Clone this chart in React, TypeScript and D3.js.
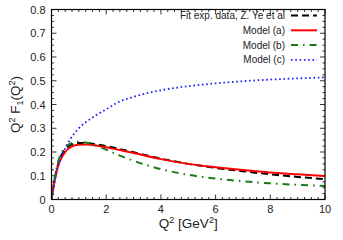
import React from "react";
import * as d3 from "d3";

// Q^2 grid (GeV^2) and the four curves
const q2 = [0, 0.1, 0.2, 0.3, 0.5, 0.75, 1, 1.25, 1.5, 2, 2.5, 3, 4, 5, 6, 7, 8, 9, 10];
const fitYe = [0, 0.075, 0.13, 0.17, 0.21, 0.232, 0.238, 0.238, 0.235, 0.225, 0.212, 0.199, 0.172, 0.15, 0.133, 0.119, 0.106, 0.095, 0.086];
const modelA = [0, 0.07, 0.125, 0.16, 0.2, 0.224, 0.231, 0.232, 0.229, 0.22, 0.208, 0.196, 0.17, 0.15, 0.136, 0.124, 0.114, 0.106, 0.099];
const modelB = [0, 0.08, 0.14, 0.18, 0.218, 0.238, 0.243, 0.24, 0.232, 0.21, 0.185, 0.163, 0.128, 0.104, 0.088, 0.077, 0.068, 0.062, 0.057];
const modelC = [0, 0.065, 0.12, 0.16, 0.215, 0.265, 0.3, 0.325, 0.345, 0.38, 0.413, 0.432, 0.46, 0.477, 0.489, 0.498, 0.505, 0.51, 0.514];

const xTicks = [0, 2, 4, 6, 8, 10];
const yTicks = [0, 0.1, 0.2, 0.3, 0.4, 0.5, 0.6, 0.7, 0.8];

const series = [
  { label: "Fit exp. data, Z. Ye et al", values: fitYe, color: "#000000", dash: "7,4", width: 2 },
  { label: "Model (a)", values: modelA, color: "#ff0000", dash: null, width: 2 },
  { label: "Model (b)", values: modelB, color: "#1a7a1a", dash: "7,5,1.6,5", width: 2 },
  { label: "Model (c)", values: modelC, color: "#2020ff", dash: "1.6,2.7", width: 1.8 },
];

const W = 343;
const H = 240;
const m = { left: 51.5, right: 18, top: 9.5, bottom: 40.5 };
const font = "'Liberation Sans', Arial, Helvetica, sans-serif";

const App = () => {
  const x = d3.scaleLinear().domain([0, 10]).range([m.left, W - m.right]);
  const y = d3.scaleLinear().domain([0, 0.8]).range([H - m.bottom, m.top]);

  const line = (vals: number[]) =>
    d3
      .line<number>()
      .x((_, i) => x(q2[i]))
      .y(d => y(d))
      .curve(d3.curveMonotoneX)(vals) || "";

  const xMinor = d3.range(0, 10.001, 0.25);
  const yMinor = d3.range(0, 0.8001, 0.025);
  const x0 = x(0), x1 = x(10), y0 = y(0), y1 = y(0.8);

  return (
    <svg width={W} height={H} style={{ position: "absolute", left: 0, top: 0 }} fontFamily={font}>
      <rect width={W} height={H} fill="white" />
      <defs>
        <clipPath id="plot">
          <rect x={x0} y={y1} width={x1 - x0} height={y0 - y1} />
        </clipPath>
      </defs>

      {/* ticks, mirrored on all sides */}
      <g stroke="#000" strokeWidth={0.8}>
        {xMinor.map((v, i) => {
          const len = i % 8 === 0 ? 5 : 2.5;
          return (
            <g key={"xm" + i}>
              <line x1={x(v)} x2={x(v)} y1={y0} y2={y0 - len} />
              <line x1={x(v)} x2={x(v)} y1={y1} y2={y1 + len} />
            </g>
          );
        })}
        {yMinor.map((v, i) => {
          const len = i % 4 === 0 ? 5 : 2.5;
          return (
            <g key={"ym" + i}>
              <line x1={x0} x2={x0 + len} y1={y(v)} y2={y(v)} />
              <line x1={x1} x2={x1 - len} y1={y(v)} y2={y(v)} />
            </g>
          );
        })}
      </g>

      {/* curves */}
      <g clipPath="url(#plot)" fill="none">
        {series.map(s => (
          <path
            key={s.label}
            d={line(s.values)}
            stroke={s.color}
            strokeWidth={s.width}
            strokeDasharray={s.dash || undefined}
          />
        ))}
      </g>

      <rect x={x0} y={y1} width={x1 - x0} height={y0 - y1} fill="none" stroke="#000" strokeWidth={1.2} />

      {/* tick labels */}
      <g fontSize={11} fill="#222">
        {xTicks.map(t => (
          <text key={t} x={x(t)} y={y0 + 13.5} textAnchor="middle">{t}</text>
        ))}
        {yTicks.map(t => (
          <text key={t} x={x0 - 6} y={y(t) + 4} textAnchor="end">{t === 0 ? "0" : d3.format(".1f")(t)}</text>
        ))}
      </g>

      {/* axis titles */}
      <text x={(x0 + x1) / 2} y={H - 12} textAnchor="middle" fontSize={13.5} fill="#222">
        Q<tspan dy={-5} fontSize={9}>2</tspan>
        <tspan dy={5}> [GeV</tspan>
        <tspan dy={-5} fontSize={9}>2</tspan>
        <tspan dy={5}>]</tspan>
      </text>
      <text transform={`translate(20 ${(y0 + y1) / 2}) rotate(-90)`} textAnchor="middle" fontSize={13.5} fill="#222">
        Q<tspan dy={-5} fontSize={9}>2</tspan>
        <tspan dy={5}> F</tspan>
        <tspan dy={3} fontSize={9}>1</tspan>
        <tspan dy={-3}>(Q</tspan>
        <tspan dy={-5} fontSize={9}>2</tspan>
        <tspan dy={5}>)</tspan>
      </text>

      {/* legend */}
      <g fontSize={10} fill="#222">
        {series.map((s, i) => {
          const ly = 15.5 + i * 14.8;
          return (
            <g key={s.label}>
              <text x={285} y={ly + 3.5} textAnchor="end">{s.label}</text>
              <line
                x1={291}
                x2={317}
                y1={ly}
                y2={ly}
                stroke={s.color}
                strokeWidth={s.width}
                strokeDasharray={s.dash || undefined}
              />
            </g>
          );
        })}
      </g>
    </svg>
  );
};

export default App;
